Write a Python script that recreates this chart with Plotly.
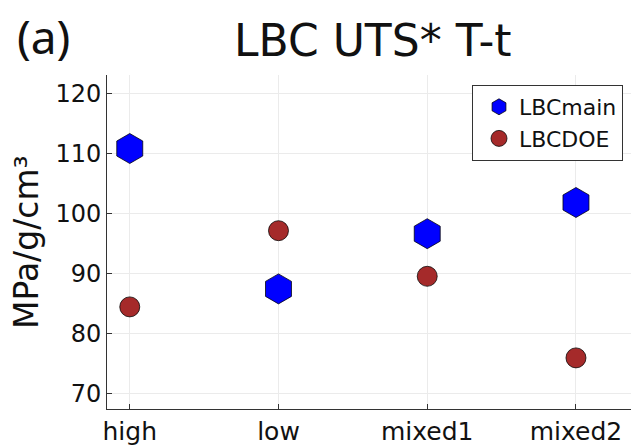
import plotly.graph_objects as go

categories = ["high", "low", "mixed1", "mixed2"]
lbc_main = [110.8, 87.4, 96.6, 101.8]
lbc_doe = [84.4, 97.1, 89.5, 75.9]
y_ticks = [70, 80, 90, 100, 110, 120]

W, H = 631, 446
L, R, T, B = 107, 0, 75, 37
pw = W - L - R
ph = H - T - B

fig = go.Figure()
fig.add_trace(go.Scatter(
    x=list(range(len(categories))), y=lbc_main, mode="markers", name="LBCmain",
    marker=dict(symbol="hexagon", size=30, color="#0000FF",
                line=dict(color="rgba(0,0,0,0.75)", width=1)),
))
fig.add_trace(go.Scatter(
    x=list(range(len(categories))), y=lbc_doe, mode="markers", name="LBCDOE",
    marker=dict(symbol="circle", size=20, color="#A52A2A",
                line=dict(color="rgba(0,0,0,0.75)", width=1)),
))

fig.update_layout(
    width=W, height=H,
    margin=dict(l=L, r=R, t=T, b=B, pad=0),
    paper_bgcolor="white", plot_bgcolor="white",
    showlegend=True,
    legend=dict(
        x=(623 - L) / pw, xanchor="right", y=(H - B - 85) / ph, yanchor="top",
        bgcolor="white", bordercolor="#333", borderwidth=1,
        font=dict(family="DejaVu Sans", size=22, color="#111"),
        itemsizing="trace", tracegroupgap=0, indentation=6,
    ),
    xaxis=dict(
        tickmode="array", tickvals=list(range(len(categories))), ticktext=categories,
        range=[-0.153, 3.37], showgrid=True, gridcolor="#ebebeb", gridwidth=1,
        showline=True, linecolor="#333", linewidth=1,
        ticks="inside", ticklen=5, tickcolor="#333",
        tickfont=dict(family="DejaVu Sans", size=25, color="#111"),
        zeroline=False, mirror=False,
    ),
    yaxis=dict(
        tickmode="array", tickvals=y_ticks, range=[67.38, 123.05],
        showgrid=True, gridcolor="#ebebeb", gridwidth=1,
        showline=True, linecolor="#333", linewidth=1,
        ticks="inside", ticklen=5, tickcolor="#333",
        tickfont=dict(family="DejaVu Sans", size=24, color="#111"),
        zeroline=False, mirror=False,
    ),
    annotations=[
        dict(text="LBC UTS* T-t", xref="paper", yref="paper",
             x=(373 - L) / pw, y=1 + (T - 41) / ph, xanchor="center", yanchor="middle",
             showarrow=False, font=dict(family="DejaVu Sans", size=44, color="#111")),
        dict(text="(a)", xref="paper", yref="paper",
             x=(15 - L) / pw, y=1 + (T - 36) / ph, xanchor="left", yanchor="middle",
             showarrow=False, font=dict(family="Noto Sans", size=46, color="#111")),
        dict(text="MPa/g/cm³", xref="paper", yref="paper", textangle=-90,
             x=(26 - L) / pw, y=(H - B - 242) / ph, xanchor="center", yanchor="middle",
             showarrow=False, font=dict(family="DejaVu Sans", size=33, color="#111")),
    ],
)

fig.write_html("out.html")
